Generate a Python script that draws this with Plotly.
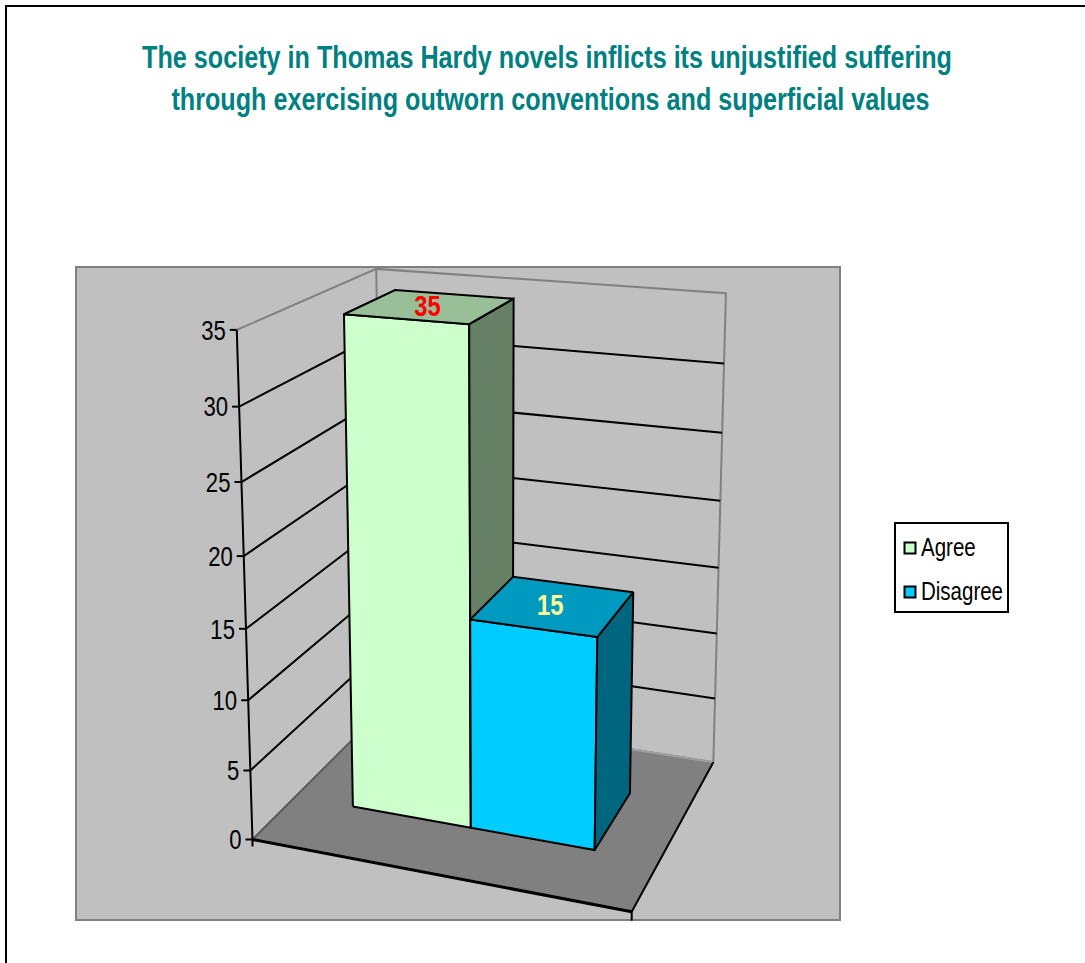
import numpy as np
import plotly.graph_objects as go

# ---- data ----
categories = ["Agree", "Disagree"]
values = [35, 15]
value_ticks = [0, 5, 10, 15, 20, 25, 30, 35]
axis_max = 35
title_lines = ["The society in Thomas Hardy novels inflicts its unjustified suffering",
               "\u00a0through exercising outworn conventions and superficial values"]
face_colors = ["#CCFFCC", "#00CCFF"]
top_colors = ["#99BF99", "#0099BF"]
side_colors = ["#668066", "#006680"]
label_colors = ["#FF0000", "#FFFF99"]

FONT = "Liberation Sans"

# ---- camera: calibrated from the corners of the 3-D box (u, depth, height) ----
box_world = [(0,0,0),(1,0,0),(1,1,0),(0,1,0),(0,0,1),(0,1,1),(1,1,1)]
box_image = [(252,840),(632,911),(713,763),(383,709),(237,330),(376,269),(726,293)]
A = []
for (X,Y,Z),(px,py) in zip(box_world, box_image):
    A.append([X,Y,Z,1,0,0,0,0,-px*X,-px*Y,-px*Z,-px])
    A.append([0,0,0,0,X,Y,Z,1,-py*X,-py*Y,-py*Z,-py])
P = np.linalg.svd(np.array(A, float))[2][-1].reshape(3,4)

def proj(u, d, h):
    q = P @ np.array([u, d, h, 1.0])
    return q[0]/q[2], q[1]/q[2]

def h_of(v):
    return v/axis_max

fig = go.Figure()

def poly(pts, fill=None, lc="black", lw=2):
    xs = [p[0] for p in pts]; ys = [p[1] for p in pts]
    kw = dict(fill="toself", fillcolor=fill) if fill else {}
    fig.add_trace(go.Scatter(x=xs, y=ys, mode="lines", line=dict(color=lc, width=lw),
                             hoverinfo="skip", showlegend=False, **kw))

# walls and floor
poly([proj(0,0,0),proj(1,0,0),proj(1,1,0),proj(0,1,0),proj(0,0,0)], fill="#808080", lc="#808080", lw=1)
poly([proj(0,0,1),proj(0,1,1),proj(1,1,1),proj(1,1,0),proj(0,1,0),proj(0,1,1)], lc="#808080", lw=2)
poly([proj(0,1,0),proj(1,1,0)], lc="#A0A0A0", lw=2)
poly([proj(0,0,0),proj(0,1,0)], lc="#5A5A5A", lw=2)

# gridlines
for t in value_ticks[1:-1]:
    h = h_of(t)
    poly([proj(0,0,h),proj(0,1,h),proj(1,1,h)], lw=2)

# axis, floor edges, ticks
poly([proj(0,0,0),proj(0,0,1)], lw=2)
poly([proj(0,0,0),proj(1,0,0)], lw=3)
poly([proj(1,0,0),proj(1,1,0)], lw=2)
x0, y0 = proj(0,0,0); x1, y1 = proj(1,0,0)
poly([(x0,y0),(x0,y0+7)], lw=2)
poly([(x1,y1),(x1,y1+9)], lw=2)
tick_x, tick_y = [], []
for t in value_ticks:
    x, y = proj(0,0,h_of(t))
    poly([(x-7,y),(x,y)], lw=2)
    tick_x.append(x-11); tick_y.append(y+3)
fig.add_trace(go.Scatter(x=tick_x, y=tick_y, mode="text", text=[str(t) for t in value_ticks],
                         textposition="middle left", hoverinfo="skip", showlegend=False,
                         textfont=dict(family=FONT, size=27, color="black")))

# bars
edges = [0.167, 0.5, 0.833]
d0, d1 = 0.3, 0.69
for i, v in enumerate(values):
    a, b, h = edges[i], edges[i+1], h_of(v)
    poly([proj(a,d0,0),proj(b,d0,0),proj(b,d0,h),proj(a,d0,h),proj(a,d0,0)], fill=face_colors[i])
    poly([proj(b,d0,0),proj(b,d1,0),proj(b,d1,h),proj(b,d0,h),proj(b,d0,0)], fill=side_colors[i])
    poly([proj(a,d0,h),proj(b,d0,h),proj(b,d1,h),proj(a,d1,h),proj(a,d0,h)], fill=top_colors[i])
for i, v in enumerate(values):
    x, y = proj((edges[i]+edges[i+1])/2, (d0+d1)/2, h_of(v))
    fig.add_trace(go.Scatter(x=[x-3], y=[y+2], mode="text", text=[str(v)], textposition="middle center",
                             hoverinfo="skip", showlegend=False,
                             textfont=dict(family=FONT, size=29, color=label_colors[i], weight="bold")))

# legend
leg_y = [548, 592]
fig.add_trace(go.Scatter(x=[910]*2, y=leg_y, mode="markers", hoverinfo="skip", showlegend=False,
                         marker=dict(symbol="square", size=11, color=face_colors,
                                     line=dict(color="black", width=2))))
fig.add_trace(go.Scatter(x=[921]*2, y=[y+2 for y in leg_y], mode="text", text=categories,
                         textposition="middle right", hoverinfo="skip", showlegend=False,
                         textfont=dict(family=FONT, size=25, color="black")))

shapes = [
    dict(type="rect", xref="x", yref="y", x0=76, y0=267, x1=840, y1=920, layer="below",
         fillcolor="#C0C0C0", line=dict(color="#808080", width=2)),
    dict(type="rect", xref="x", yref="y", x0=895, y0=523, x1=1008, y1=612, layer="below",
         fillcolor="white", line=dict(color="black", width=2)),
    dict(type="path", xref="x", yref="y", path="M 6 963 L 6 6 L 1085 6", layer="below",
         line=dict(color="black", width=2)),
]

fig.update_layout(
    width=1085, height=963, autosize=False, margin=dict(l=0, r=0, t=0, b=0),
    paper_bgcolor="white", plot_bgcolor="rgba(0,0,0,0)", showlegend=False, shapes=shapes,
    xaxis=dict(range=[0,1085], visible=False, fixedrange=True),
    yaxis=dict(range=[963,0], visible=False, fixedrange=True),
    title=dict(text="<br>".join(title_lines), x=547/1085, xanchor="center", xref="paper",
               y=1-68/963, yref="paper", yanchor="middle",
               font=dict(family=FONT, size=32, color="#008080", weight="bold")),
)

# No narrow face is installed: condense the real SVG text horizontally about its anchor.
post = """
document.body.style.margin='0';document.body.style.overflow='hidden';
function squeeze(el, sx){
  var x=parseFloat(el.getAttribute('x'))||0, t=el.getAttribute('transform')||'';
  el.setAttribute('transform', t+' translate('+x+',0) scale('+sx+',1) translate('+(-x)+',0)');
}
document.querySelectorAll('.textpoint text').forEach(function(e){squeeze(e,0.82);});
document.querySelectorAll('text.gtitle').forEach(function(e){squeeze(e,0.787);});
"""
fig.write_html("out.html", post_script=post, config=dict(displayModeBar=False))
